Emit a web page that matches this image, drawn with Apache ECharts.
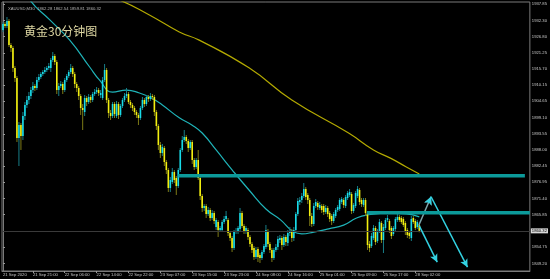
<!DOCTYPE html>
<html>
<head>
<meta charset="utf-8">
<script src="https://cdn.jsdelivr.net/npm/echarts@6/dist/echarts.min.js"></script>
<style>
html,body{margin:0;padding:0;background:#000;}
#c{width:550px;height:279px;}
</style>
</head>
<body>
<div id="c"></div>
<script>
// ---- Data (XAUUSD M30) ----
// each candle: [open, close, low, high]
const candles = [
[1929.05,1931.11,1928.37,1931.79],[1931.11,1930.42,1929.74,1931.79],[1930.42,1932.13,1929.74,1933.50],[1932.13,1923.92,1923.24,1932.82],
[1923.92,1922.89,1921.53,1924.61],[1922.89,1916.05,1914.68,1923.58],[1916.05,1912.63,1911.26,1916.73],[1912.63,1892.10,1890.73,1913.31],
[1892.10,1896.54,1882.51,1897.57],[1896.54,1892.78,1887.99,1897.23],[1892.78,1899.62,1891.41,1900.99],[1899.62,1903.39,1898.26,1904.42],
[1903.39,1905.10,1902.36,1906.47],[1905.10,1906.47,1903.73,1907.84],[1906.47,1908.52,1905.44,1909.55],[1908.52,1909.89,1907.50,1911.26],
[1909.89,1909.21,1908.18,1910.58],[1909.21,1911.94,1908.52,1912.97],[1911.94,1912.97,1911.26,1914.00],[1912.97,1914.00,1912.29,1914.68],
[1914.00,1914.68,1913.31,1915.37],[1914.68,1915.37,1914.00,1916.39],[1915.37,1916.05,1914.68,1916.73],[1916.05,1916.73,1915.37,1917.76],
[1916.05,1918.79,1914.68,1919.47],[1918.79,1920.16,1918.10,1921.53],[1920.16,1918.10,1917.08,1920.84],[1918.10,1908.52,1907.15,1918.79],
[1908.52,1909.89,1906.47,1910.92],[1909.89,1910.58,1909.21,1911.60],[1910.58,1908.52,1907.15,1911.26],[1908.52,1911.94,1907.84,1912.63],
[1911.94,1913.31,1911.26,1914.00],[1913.31,1914.68,1912.63,1915.37],[1914.68,1916.05,1914.00,1917.42],[1916.05,1914.00,1912.97,1916.73],
[1914.00,1910.58,1909.21,1914.68],[1910.58,1909.21,1907.84,1911.26],[1909.21,1906.47,1905.10,1909.89],[1906.47,1902.36,1899.97,1907.15],
[1902.36,1901.68,1894.83,1903.73],[1900.99,1905.78,1899.62,1906.81],[1905.78,1904.42,1903.05,1906.47],[1904.42,1906.13,1903.73,1907.15],
[1906.13,1905.10,1904.07,1906.81],[1905.10,1907.15,1904.42,1907.84],[1907.15,1907.84,1906.47,1908.86],[1907.84,1908.52,1907.15,1909.55],
[1908.52,1907.50,1906.47,1909.21],[1906.81,1907.50,1905.78,1908.52],[1905.78,1911.94,1905.10,1912.97],[1911.94,1915.37,1911.26,1917.42],
[1915.37,1905.10,1904.07,1916.05],[1905.10,1900.65,1898.94,1905.78],[1900.65,1899.62,1898.26,1901.68],[1899.62,1903.73,1898.94,1904.42],
[1903.73,1900.31,1898.94,1904.42],[1899.62,1903.73,1898.94,1904.76],[1903.73,1899.97,1898.60,1904.42],[1899.97,1903.05,1899.28,1903.73],
[1903.05,1905.10,1902.36,1905.78],[1905.10,1906.47,1904.42,1907.50],[1906.47,1907.15,1905.78,1909.21],[1907.15,1904.42,1903.73,1907.84],
[1904.42,1903.39,1902.36,1905.10],[1903.39,1902.36,1901.33,1904.07],[1902.36,1900.99,1899.97,1903.05],[1900.99,1899.97,1898.94,1901.68],
[1899.97,1898.94,1896.54,1900.65],[1898.94,1902.36,1898.26,1903.05],[1902.36,1905.10,1901.68,1906.13],[1905.10,1903.73,1902.70,1905.78],
[1903.73,1906.13,1903.05,1906.81],[1906.13,1905.44,1904.42,1906.81],[1905.44,1906.47,1904.76,1907.50],[1906.47,1906.13,1905.10,1907.15],
[1906.13,1900.99,1899.62,1906.81],[1900.99,1896.20,1894.83,1901.68],[1896.20,1889.70,1887.99,1896.89],[1889.70,1886.96,1885.25,1890.73],
[1886.96,1889.02,1885.94,1890.05],[1888.67,1883.88,1882.51,1889.36],[1883.88,1881.15,1879.78,1884.57],[1881.15,1874.99,1873.62,1881.83],
[1874.99,1877.72,1873.62,1878.75],[1877.04,1880.46,1876.36,1881.83],[1880.46,1877.72,1876.70,1881.15],[1878.41,1875.67,1872.59,1879.09],
[1875.67,1881.15,1874.99,1881.83],[1881.15,1887.99,1880.46,1888.67],[1887.99,1891.41,1887.30,1892.78],[1891.41,1892.44,1890.73,1894.83],
[1892.44,1891.07,1890.05,1893.12],[1891.07,1888.67,1887.30,1891.75],[1888.67,1890.73,1887.99,1891.41],[1890.73,1884.57,1883.20,1891.41],
[1884.57,1882.17,1881.15,1885.25],[1882.17,1884.57,1881.49,1885.25],[1884.57,1878.41,1877.72,1887.99],[1878.41,1872.25,1870.88,1879.09],
[1872.25,1868.14,1866.77,1872.93],[1868.14,1868.83,1867.12,1869.51],[1868.83,1866.09,1864.72,1869.51],[1866.09,1867.46,1865.40,1868.49],
[1867.46,1864.72,1863.69,1868.14],[1864.72,1866.43,1864.04,1867.46],[1866.43,1863.69,1862.67,1867.12],[1861.64,1864.04,1860.61,1864.72],
[1863.35,1860.61,1858.22,1864.04],[1860.61,1861.30,1859.93,1861.98],[1860.61,1863.35,1859.93,1864.04],[1863.35,1864.38,1862.67,1865.40],
[1864.38,1865.40,1863.69,1867.12],[1864.04,1859.59,1858.56,1864.72],[1859.59,1857.88,1856.85,1860.27],[1857.88,1854.45,1853.09,1858.56],
[1854.45,1859.93,1853.77,1860.61],[1859.93,1860.27,1859.25,1861.30],[1859.93,1861.30,1859.25,1861.98],[1860.96,1866.43,1860.27,1868.14],
[1866.43,1861.98,1861.30,1867.12],[1861.98,1860.27,1859.25,1862.67],[1859.93,1861.30,1859.25,1861.98],[1860.61,1858.22,1857.19,1861.30],
[1858.22,1855.82,1854.80,1858.90],[1855.82,1853.77,1852.74,1856.51],[1854.45,1851.37,1850.35,1855.14],[1851.37,1853.77,1850.69,1854.80],
[1854.11,1851.37,1849.66,1854.80],[1852.06,1851.03,1849.32,1852.74],[1851.03,1853.09,1850.35,1853.77],[1853.09,1855.14,1852.40,1855.82],
[1854.80,1860.61,1854.11,1862.33],[1860.27,1855.82,1854.80,1860.96],[1855.82,1853.77,1852.74,1856.51],[1853.77,1851.03,1849.66,1854.45],
[1851.03,1853.77,1850.35,1854.45],[1853.77,1854.80,1853.09,1855.82],[1854.80,1857.53,1853.77,1858.56],[1857.19,1857.88,1856.17,1858.90],
[1857.88,1855.48,1853.77,1858.56],[1855.48,1858.22,1854.80,1859.25],[1858.22,1856.51,1855.14,1858.90],[1856.17,1859.59,1855.14,1860.61],
[1859.59,1860.27,1858.56,1861.64],[1860.27,1857.88,1856.51,1860.96],[1857.88,1860.61,1856.85,1861.64],[1860.61,1866.09,1859.93,1866.77],
[1866.09,1870.54,1865.40,1871.56],[1870.20,1870.88,1869.17,1871.91],[1870.88,1872.25,1869.85,1873.27],[1872.25,1874.64,1871.56,1876.70],
[1874.64,1871.91,1870.88,1875.33],[1872.59,1870.88,1869.51,1873.27],[1870.88,1865.40,1861.98,1871.56],[1865.40,1862.67,1861.64,1866.43],
[1862.67,1868.83,1861.98,1869.85],[1868.83,1870.20,1868.14,1871.22],[1869.85,1868.49,1867.46,1870.54],[1868.14,1869.17,1867.46,1870.20],
[1868.83,1867.46,1866.43,1869.51],[1868.83,1866.77,1865.75,1869.51],[1866.77,1868.14,1866.09,1869.17],[1868.14,1866.09,1865.06,1868.83],
[1866.43,1864.38,1863.35,1867.12],[1865.40,1863.69,1862.33,1866.09],[1863.69,1866.09,1863.01,1866.77],[1865.40,1867.46,1864.72,1868.14],
[1867.46,1868.49,1866.77,1869.17],[1867.80,1870.88,1867.12,1871.56],[1870.20,1871.22,1869.51,1871.91],[1870.88,1869.17,1868.14,1871.56],
[1868.83,1871.91,1868.14,1872.59],[1871.56,1873.27,1870.88,1873.96],[1872.59,1873.62,1871.91,1874.64],[1872.93,1867.12,1866.09,1873.62],
[1867.12,1869.17,1866.43,1869.85],[1868.83,1873.27,1868.14,1873.96],[1872.25,1874.64,1871.56,1875.67],[1874.30,1870.20,1869.17,1874.99],
[1870.88,1869.51,1868.49,1871.56],[1869.17,1870.88,1868.49,1871.56],[1870.88,1866.43,1865.40,1871.56],[1866.43,1855.48,1853.77,1867.12],
[1855.82,1854.45,1853.09,1856.85],[1855.14,1858.56,1854.45,1859.59],[1857.88,1861.30,1857.19,1862.33],[1861.30,1856.51,1855.48,1861.98],
[1856.85,1860.27,1856.17,1860.96],[1860.27,1863.35,1859.59,1864.38],[1863.01,1857.19,1856.17,1863.69],[1857.19,1861.64,1852.74,1862.67],
[1861.30,1864.04,1860.61,1864.72],[1864.04,1864.72,1863.35,1865.75],[1863.69,1860.61,1859.59,1864.38],[1861.30,1858.56,1857.53,1861.98],
[1859.25,1861.30,1858.56,1861.98],[1860.96,1864.38,1860.27,1865.06],[1864.04,1865.06,1863.35,1866.09],[1865.06,1864.04,1863.35,1865.75],
[1864.72,1863.35,1862.67,1865.40],[1864.38,1862.33,1861.64,1865.06],[1863.01,1859.93,1858.90,1863.69],[1860.61,1858.90,1857.88,1861.30],
[1859.59,1858.56,1857.53,1860.27],[1857.88,1864.38,1856.85,1865.40],[1864.72,1863.35,1862.67,1865.40],[1863.69,1861.30,1860.61,1864.38],
[1861.64,1863.35,1860.96,1864.04],[1862.28,1860.32,1859.81,1862.54]
];
// moving averages read at sample bars: [barIndex, value]
const maFast = [[0,1953.7],[13.5,1939.3],[23.5,1932.5],[33.5,1925.6],[43.5,1916.4],[48.5,1911.9],[55,1907.8],[62,1908.5],
  [68.5,1907.5],[74.5,1905.8],[80,1903.4],[88.5,1899.0],[95,1896.5],[100,1893.8],[107,1888.0],[115,1881.2],[123.5,1874.3],
  [132,1867.8],[139.5,1864.0],[146,1859.9],[150,1859.3],[156,1859.9],[163.5,1861.0],[171,1862.3],[177.5,1864.7],[182.5,1865.7],
  [194.5,1866.4],[202.5,1866.1],[209,1865.1]];
const maSlow = [[0,1954.7],[58.5,1939.3],[73.5,1934.2],[88.5,1928.4],[98.5,1925.6],[123.5,1916.1],[145,1905.1],[173.5,1893.8],
  [186,1888.0],[194.5,1885.2],[202.5,1882.2],[209,1879.8]];
// horizontal levels: [fromBar, toBar, price]
const levels = [[88, 262, 1879.16], [182.7, 264.5, 1866.54]];
// arrow segments: [[barFrom, priceFrom], [barTo, priceTo]]
const arrowUp = [[208.8, 1862.3], [214.9, 1872.0]];
const arrowsDown = [
  [[214.9, 1872.0], [233.2, 1847.9]],
  [[209.0, 1862.0], [218.0, 1849.6]]
];
const priceTicks = [1937.85,1932.30,1926.80,1921.25,1915.70,1910.15,1904.65,1899.10,1893.55,1888.00,1882.45,1876.95,1871.40,1865.85,1854.75,1849.20];
const timeTickBars = [15,31,47,63,79,95,111,127,143,159,175,191,207];
const timeLabelBars = [0,15,31,47,63,79,95,111,127,143,159,175,191,207];
const timeLabels = ["21 Sep 2020","21 Sep 21:00","22 Sep 06:00","22 Sep 14:00","22 Sep 22:00","23 Sep 07:00","23 Sep 15:00",
  "23 Sep 23:00","24 Sep 08:00","24 Sep 16:00","25 Sep 01:00","25 Sep 09:00","25 Sep 17:00","28 Sep 02:00"];
const header = "XAUUSD,M30  1862.28 1862.54 1859.81 1860.32";
const titleText = "黄金30分钟图";
const lastClose = 1860.32;

// ---- Chart ----
const chart = echarts.init(document.getElementById('c'), null, {renderer:'canvas'});
const labelMap = {};
timeLabelBars.forEach((b,k)=>{ labelMap[b] = timeLabels[k]; });
const candleData = candles.map((d,i)=>[i, d[0], d[1], d[2], d[3]]);

const upBody = '#18dbe8', dnBody = '#f2ef10', upWick = '#177e88', dnWick = '#7d7a16';
const smallFont = 'Liberation Sans';

const series = [
  {
    type:'line', data: maSlow, smooth:0.5, showSymbol:false, symbol:'none',
    lineStyle:{color:'#b3a900', width:1.2}, z:2, silent:true
  },
  {
    type:'line', data: maFast, smooth:0.5, showSymbol:false, symbol:'none',
    lineStyle:{color:'#1fb3b8', width:1.2}, z:3, silent:true,
    markLine:{
      silent:true, symbol:['none','none'], animation:false,
      lineStyle:{color:'#3a3a3a', width:1, type:'solid'},
      label:{show:true, position:'end', formatter: lastClose.toFixed(2), fontSize:4.2, color:'#000',
             backgroundColor:'#d8d8d8', padding:[1,1,0,1], distance:1, fontFamily:smallFont},
      data:[{yAxis:lastClose}]
    }
  },
  {
    type:'custom', data: candleData, z:4, silent:true,
    encode:{x:0, y:[1,2,3,4]},
    renderItem: function(params, api){
      const i = api.value(0), o = api.value(1), c = api.value(2), l = api.value(3), h = api.value(4);
      const pO = api.coord([i,o]), pC = api.coord([i,c]), pL = api.coord([i,l]), pH = api.coord([i,h]);
      const up = c >= o;
      const x = pO[0];
      const top = Math.min(pO[1], pC[1]);
      const bh = Math.max(Math.abs(pO[1]-pC[1]), 1);
      return {type:'group', children:[
        {type:'line', shape:{x1:x, y1:pH[1], x2:x, y2:pL[1]}, style:{stroke: up?upWick:dnWick, lineWidth:1}},
        {type:'rect', shape:{x:x-0.8, y:top, width:1.6, height:bh}, style:{fill: up?upBody:dnBody}}
      ]};
    }
  }
];
levels.forEach(lv=>{
  series.push({type:'line', data:[[lv[0], lv[2]],[lv[1], lv[2]]], symbol:'none', showSymbol:false,
    lineStyle:{color:'#0c9a9a', width:3.5}, z:5, silent:true});
});
series.push({
  type:'line', data:[], z:6, silent:true,
  markLine:{
    silent:true, animation:false, symbol:['none','arrow'], symbolSize:[6,8],
    lineStyle:{color:'#33d2e2', width:1.5, type:'solid'},
    label:{show:false},
    data:[
      [{coord:arrowUp[0], lineStyle:{color:'#7fa7ad'}}, {coord:arrowUp[1]}],
      [{coord:arrowsDown[0][0]}, {coord:arrowsDown[0][1]}],
      [{coord:arrowsDown[1][0]}, {coord:arrowsDown[1][1]}]
    ]
  }
});
// cyan arrow head on the up move
series.push({
  type:'line', data:[], z:7, silent:true,
  markLine:{
    silent:true, animation:false, symbol:['none','arrow'], symbolSize:[6,8],
    lineStyle:{color:'#33d2e2', width:1.5, type:'solid'}, label:{show:false},
    data:[[{coord:[213.6, 1869.9]}, {coord:arrowUp[1]}]]
  }
});

chart.setOption({
  backgroundColor:'#000',
  animation:false,
  title:[
    {text: header, left:3, top:2, textStyle:{fontSize:4.2, color:'#b4b4b4', fontWeight:'normal', fontFamily:smallFont}},
    {text: titleText, left:19, top:20, textStyle:{fontSize:12, color:'#ddd6a2', fontWeight:'normal', fontFamily:'Noto Sans CJK SC'}}
  ],
  grid:{left:2, right:18, top:2, bottom:8, show:true, borderColor:'#7a7a7a', borderWidth:1, backgroundColor:'#000'},
  xAxis:{
    type:'value', min:-0.5, max:264.5, position:'bottom',
    axisLine:{show:true, lineStyle:{color:'#7a7a7a'}},
    axisTick:{show:true, customValues: timeTickBars, length:2, inside:false, lineStyle:{color:'#9a9a9a'}},
    axisLabel:{show:true, customValues: timeLabelBars, formatter: v => labelMap[Math.round(v)] || '',
      fontSize:4.2, color:'#c8c8c8', align:'left', margin:2, fontFamily:smallFont,
      showMinLabel:true, showMaxLabel:true, hideOverlap:false},
    splitLine:{show:false}
  },
  yAxis:{
    type:'value', position:'right', min:1846.58, max:1938.64, scale:true,
    axisLine:{show:true, lineStyle:{color:'#7a7a7a'}},
    axisTick:{show:true, customValues: priceTicks, length:2, lineStyle:{color:'#9a9a9a'}},
    axisLabel:{show:true, customValues: priceTicks, formatter: v => v.toFixed(2), fontSize:4.2, color:'#c8c8c8',
      margin:2, fontFamily:smallFont, showMinLabel:true, showMaxLabel:true},
    splitLine:{show:false}
  },
  series: series
});
</script>
</body>
</html>
